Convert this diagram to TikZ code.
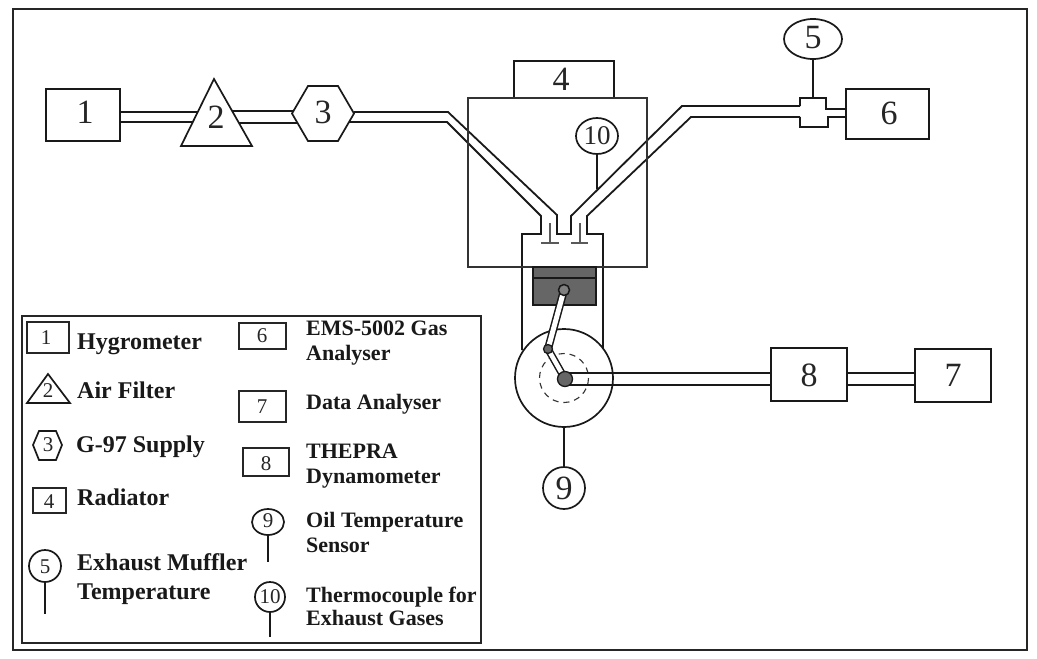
\documentclass[tikz,border=0pt]{standalone}
\usepackage{fontspec}
\setmainfont{Liberation Serif}
\usetikzlibrary{calc,shapes.geometric}
\tikzset{
  ln/.style={line width=1.8pt,black!90},
  box/.style={draw=black!90,line width=1.9pt,fill=white,inner sep=0pt,rectangle},
  sbox/.style={draw=black!85,line width=1.7pt,fill=white,inner sep=0pt,rectangle},
  shp/.style={draw=black!90,line width=1.7pt,fill=white,line join=miter},
  num/.style={font=\fontsize{34}{34}\selectfont,inner sep=0pt,text=black!85},
  mid/.style={font=\fontsize{27}{27}\selectfont,inner sep=0pt,text=black!85},
  snum/.style={font=\fontsize{21}{21}\selectfont,inner sep=0pt,text=black!85},
  lbl/.style={font=\fontsize{24}{24}\selectfont\bfseries,inner sep=0pt,anchor=base west,text=black!90},
  lblr/.style={font=\fontsize{22}{22}\selectfont\bfseries,inner sep=0pt,anchor=base west,text=black!90},
}
\begin{document}
\begin{tikzpicture}[x=1pt,y=-1pt]
\useasboundingbox (0,0) rectangle (1037,659);
\fill[white] (0,0) rectangle (1037,659);
\draw[line width=2pt,black!85] (13,9) rectangle (1027,650);

% main nodes
\node[box,minimum width=74pt,minimum height=52pt] (b1) at (83,115) {};
\node[box,minimum width=83pt,minimum height=50pt] (b6) at (887.5,114) {};
\node[box,minimum width=76pt,minimum height=53pt] (b8) at (809,374.5) {};
\node[box,minimum width=76pt,minimum height=53pt] (b7) at (953,375.5) {};
\coordinate (t2) at (214,117);
\coordinate (h3) at (323,113.5);

% intake and exhaust pipes
\coordinate (ia1) at (354,112); \coordinate (ia2) at (448,112); \coordinate (ia3) at (557,215);
\coordinate (ia4) at (557,234); \coordinate (ia5) at (571,234); \coordinate (ia6) at (571,216);
\coordinate (ia7) at (682,106); \coordinate (ia8) at (800,106);
\coordinate (ib1) at (349,122); \coordinate (ib2) at (447,122); \coordinate (ib3) at (541,216);
\coordinate (ib4) at (541,234); \coordinate (ib5) at (522,234); \coordinate (ib6) at (522,350);
\coordinate (ic1) at (603,348); \coordinate (ic2) at (603,234); \coordinate (ic3) at (587,234);
\coordinate (ic4) at (587,216); \coordinate (ic5) at (691,117); \coordinate (ic6) at (800,117);
\draw[ln,line join=miter] (ia1)--(ia2)--(ia3)--(ia4)--(ia5)--(ia6)--(ia7)--(ia8);
\draw[ln,line join=miter] (ib1)--(ib2)--(ib3)--(ib4)--(ib5)--(ib6);
\draw[ln,line join=miter] (ic1)--(ic2)--(ic3)--(ic4)--(ic5)--(ic6);

% pipes 1-2-3
\draw[ln] ([yshift=3pt]b1.east) -- (t2 |- 0,112);
\draw[ln] ([yshift=-7pt]b1.east) -- (t2 |- 0,122);
\draw[ln] (t2 |- 0,111) -- (h3 |- 0,111);
\draw[line width=2.2pt,black!90] (t2 |- 0,123) -- (h3 |- 0,123);

% shapes 2 and 3
\draw[shp] (214,79)--(252,146)--(181,146)--cycle;
\draw[shp] (292,113.5)--(308,86)--(338,86)--(354,113.5)--(338,141)--(308,141)--cycle;
\node[num] (n2) at (216,117) {2};
\node[num] (n3) at (323,112) {3};
\node[num] (n1) at (85,112) {1};
\node[num] (n6) at (889,113) {6};
\node[num] (n8) at (809,375) {8};
\node[num] (n7) at (953,375) {7};

% muffler
\coordinate (m1) at (800,98); \coordinate (m2) at (826,98); \coordinate (m3) at (826,109);
\coordinate (m4) at (800,127); \coordinate (m5) at (828,127); \coordinate (m6) at (828,117);
\draw[ln,line join=miter] (ia8)--(m1)--(m2)--(m3)--(b6.west |- m3);
\draw[ln,line join=miter] (ic6)--(m4)--(m5)--(m6)--(b6.west |- m6);
\node[shp,ellipse,minimum width=58pt,minimum height=40pt,inner sep=0pt] (e5) at (813,39) {};
\node[num] (n5) at (813,38) {5};
\draw[line width=2.2pt,black!90] (e5.south) -- (e5.south |- m1);

% radiator
\node[box,minimum width=100pt,minimum height=37pt] (b4) at (564,79.5) {};
\node[num] (n4) at (561,79) {4};
\draw[line width=1.1pt,black!80] (468,98) rectangle (647,267);
\node[shp,ellipse,minimum width=42pt,minimum height=36pt,inner sep=0pt] (e10) at (597,136) {};
\node[mid] (n10) at (597,136) {10};
\coordinate (j10) at (597,189);
\draw[ln] (e10.south) -- (j10);

% valves
\draw[line width=1.5pt,black!65] (550,223)--(550,243) (541,243)--(559,243);
\draw[line width=1.5pt,black!65] (580,223)--(580,243) (571,243)--(588,243);

% piston
\draw[ln,fill=black!60] (533,267) rectangle (596,305);
\draw[ln] (533,278)--(596,278);

% crank
\node[shp,circle,minimum size=98pt,inner sep=0pt] (crank) at (564,378) {};
\draw[line width=1.1pt,black!80,dash pattern=on 6pt off 5pt] (crank.center) circle[radius=24.5];
\coordinate (pin) at (564,290);
\coordinate (cpin) at (548,349);
\coordinate (hub) at (565,379);
\draw[draw=black!90,line width=1.5pt,double=white,double distance=5pt] (pin) -- (cpin);
\draw[draw=black!90,line width=1.5pt,double=white,double distance=4.5pt] (cpin) -- (hub);
\draw[ln] (hub |- 0,373) -- (b8.west |- 0,373);
\draw[ln] (hub |- 0,385) -- (b8.west |- 0,385);
\draw[ln] (b8.east |- 0,373) -- (b7.west |- 0,373);
\draw[ln] (b8.east |- 0,385) -- (b7.west |- 0,385);
\node[draw=black!90,line width=1.5pt,fill=black!50,circle,minimum size=11pt,inner sep=0pt] (pinn) at (pin) {};
\node[draw=black!90,line width=1.3pt,fill=black!60,circle,minimum size=9pt,inner sep=0pt] (cpinn) at (cpin) {};
\node[draw=black!90,line width=1.3pt,fill=black!60,circle,minimum size=15pt,inner sep=0pt] (hubn) at (hub) {};
\node[shp,circle,minimum size=42pt,inner sep=0pt] (e9) at (564,488) {};
\node[num] (n9) at (564,488) {9};
\draw[ln] (crank.south) -- (e9.north);

% legend
\draw[line width=2pt,black!85] (22,316) rectangle (481,643);
\node[sbox,minimum width=42pt,minimum height=31pt] (l1) at (48,337.5) {};
\node[snum] (ln1) at (46,338) {1};
\draw[shp] (48,374)--(70,403)--(27,403)--cycle;
\node[snum] (ln2) at (48,391) {2};
\draw[shp] (33,445)--(39,431)--(56,431)--(62,445)--(56,460)--(39,460)--cycle;
\node[snum] (ln3) at (48,445) {3};
\node[sbox,minimum width=33pt,minimum height=25pt] (l4) at (49.5,500.5) {};
\node[snum] (ln4) at (49,502) {4};
\node[shp,circle,minimum size=32pt,inner sep=0pt] (l5) at (45,566) {};
\node[snum] (ln5) at (45,567) {5};
\coordinate (l5e) at (45,614);
\draw[ln] (l5.south) -- (l5e);
\node[sbox,minimum width=47pt,minimum height=26pt] (l6) at (262.5,336) {};
\node[snum] (ln6) at (262,336) {6};
\node[sbox,minimum width=47pt,minimum height=31pt] (l7) at (262.5,406.5) {};
\node[snum] (ln7) at (262,407) {7};
\node[sbox,minimum width=46pt,minimum height=28pt] (l8) at (266,462) {};
\node[snum] (ln8) at (266,464) {8};
\node[shp,ellipse,minimum width=32pt,minimum height=26pt,inner sep=0pt] (l9) at (268,522) {};
\node[snum] (ln9) at (268,521) {9};
\coordinate (l9e) at (268,562);
\draw[ln] (l9.south) -- (l9e);
\node[shp,circle,minimum size=30pt,inner sep=0pt] (l10) at (270,597) {};
\node[snum] (ln10) at (270,597) {10};
\coordinate (l10e) at (270,637);
\draw[ln] (l10.south) -- (l10e);

\node[lbl] (t1) at (77,349) {Hygrometer};
\node[lbl] (t2l) at (77,398) {Air Filter};
\node[lbl] (t3) at (76,452) {G-97 Supply};
\node[lbl] (t4) at (77,505) {Radiator};
\node[lbl] (t5a) at (77,570) {Exhaust Muffler};
\node[lbl] (t5b) at (77,599) {Temperature};
\node[lblr] (t6a) at (306,335) {EMS-5002 Gas};
\node[lblr] (t6b) at (306,360) {Analyser};
\node[lblr] (t7) at (306,409) {Data Analyser};
\node[lblr] (t8a) at (306,458) {THEPRA};
\node[lblr] (t8b) at (306,483) {Dynamometer};
\node[lblr] (t9a) at (306,527) {Oil Temperature};
\node[lblr] (t9b) at (306,552) {Sensor};
\node[lblr] (t10a) at (306,602) {Thermocouple for};
\node[lblr] (t10b) at (306,625) {Exhaust Gases};
\end{tikzpicture}
\end{document}
